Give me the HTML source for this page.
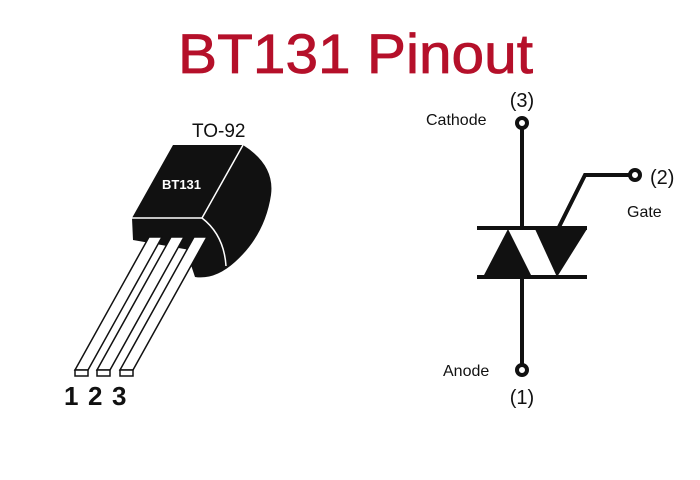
<!DOCTYPE html>
<html><head><meta charset="utf-8"><style>
html,body{margin:0;padding:0;background:#fff;}
svg{display:block;}
</style></head><body>
<svg width="700" height="480" viewBox="0 0 700 480" xmlns="http://www.w3.org/2000/svg" font-family="Liberation Sans, Arial, sans-serif">
<rect width="700" height="480" fill="#fff"/>
<text x="178" y="73" font-size="56" fill="#b5102a" stroke="#b5102a" stroke-width="0.8" textLength="355" lengthAdjust="spacingAndGlyphs">BT131 Pinout</text>
<text x="192" y="137" font-size="19" fill="#111">TO-92</text>
<!-- body -->
<path d="M173,145 L243,145 Q275,165 271,195 Q265,235 235,262 Q215,280 195,277 L190,262 L190,250 L133,240 L132,218 Z" fill="#111"/>
<path d="M243,145 L202,218 L132,218" fill="none" stroke="#fff" stroke-width="1.5"/>
<path d="M202,218 Q224,235 226,266" fill="none" stroke="#fff" stroke-width="1.5"/>
<text x="162" y="189" font-size="13" fill="#fff" font-weight="bold">BT131</text>
<!-- legs -->
<g fill="#fff" stroke="#111" stroke-width="1.5">
<polygon points="149,237 162,237 88,370 75,370"/>
<polygon points="171,237 184,237 110,370 97,370"/>
<polygon points="194,237 207,237 133,370 120,370"/>
<rect x="75" y="370" width="13" height="6"/>
<rect x="97" y="370" width="13" height="6"/>
<rect x="120" y="370" width="13" height="6"/>
</g>
<text x="64" y="405" font-size="26" font-weight="bold" fill="#111">1</text>
<text x="88" y="405" font-size="26" font-weight="bold" fill="#111">2</text>
<text x="112" y="405" font-size="26" font-weight="bold" fill="#111">3</text>
<!-- triac symbol -->
<g stroke="#111" stroke-width="4" fill="none">
<line x1="522" y1="128" x2="522" y2="228"/>
<line x1="477" y1="228" x2="587" y2="228"/>
<line x1="477" y1="277" x2="587" y2="277"/>
<line x1="522" y1="277" x2="522" y2="365"/>
<polyline points="558,229 585,175 630,175"/>
<circle cx="522" cy="123" r="5"/>
<circle cx="522" cy="370" r="5"/>
<circle cx="635" cy="175" r="5"/>
</g>
<polygon points="508,229 483,277 532,277" fill="#111"/>
<polygon points="535,229 587,229 557,277" fill="#111"/>
<text x="522" y="107" font-size="20" text-anchor="middle" fill="#111">(3)</text>
<text x="426" y="125" font-size="16" fill="#111">Cathode</text>
<text x="650" y="184" font-size="20" fill="#111">(2)</text>
<text x="627" y="217" font-size="16" fill="#111">Gate</text>
<text x="443" y="376" font-size="16" fill="#111">Anode</text>
<text x="522" y="404" font-size="20" text-anchor="middle" fill="#111">(1)</text>
</svg>
</body></html>
